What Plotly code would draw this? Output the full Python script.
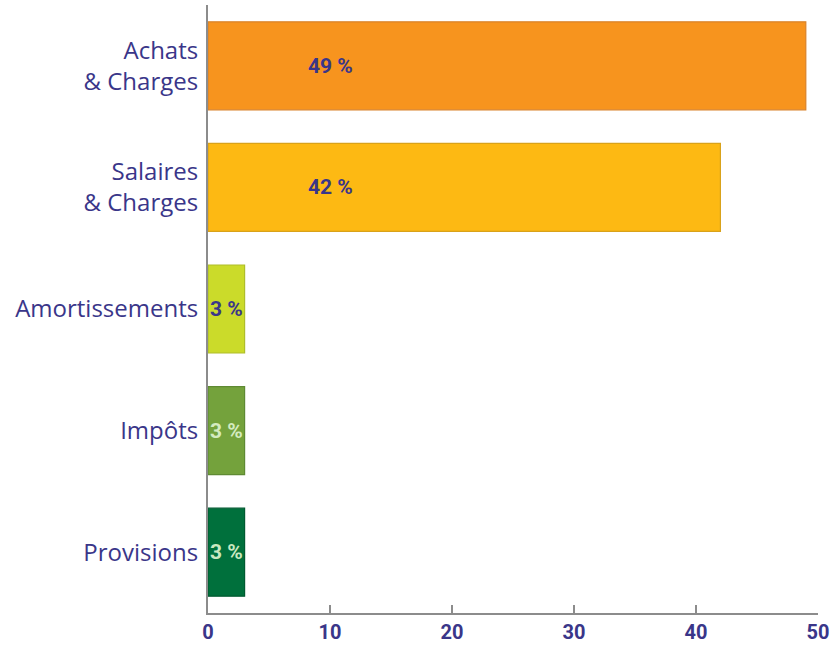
import plotly.graph_objects as go

categories = ["Achats<br>& Charges", "Salaires<br>& Charges", "Amortissements", "Impôts", "Provisions"]
values = [49, 42, 3, 3, 3]
value_labels = ["49 %", "42 %", "3 %", "3 %", "3 %"]
bar_colors = ["#F7941E", "#FDB913", "#CBDB2A", "#74A23C", "#00703C"]
line_colors = ["#D9822A", "#D9A21A", "#AFBE2A", "#5F8A33", "#005A30"]
label_colors = ["#3A3689", "#3A3689", "#3A3689", "#D4EBC0", "#C9E8C0"]
x_ticks = [0, 10, 20, 30, 40, 50]

fig = go.Figure()
fig.add_trace(go.Bar(
    y=categories, x=values, orientation="h",
    marker=dict(color=bar_colors, line=dict(color=line_colors, width=1.2)),
    hoverinfo="skip",
))

for cat, v, lab, col in zip(categories, values, value_labels, label_colors):
    fig.add_annotation(
        x=10 if v > 20 else v / 2, y=cat, text=lab, showarrow=False,
        xanchor="center", yanchor="middle",
        font=dict(family="Roboto", size=21, color=col, weight="bold"),
    )

fig.update_layout(
    width=832, height=647,
    margin=dict(l=208, r=14, t=5, b=34),
    paper_bgcolor="white", plot_bgcolor="white",
    bargap=0.276, showlegend=False,
)
fig.update_xaxes(
    range=[0, 50], tickvals=x_ticks, showgrid=False, zeroline=False,
    showline=True, linecolor="#8C8C8C", linewidth=2,
    ticks="inside", ticklen=8, tickwidth=1.5, tickcolor="#8C8C8C",
    tickfont=dict(family="Roboto", size=20, color="#3A3689", weight="bold"),
    automargin=False,
)
fig.update_yaxes(
    autorange="reversed", showgrid=False, zeroline=False,
    showline=True, linecolor="#8C8C8C", linewidth=2, ticks="",
    ticklabelstandoff=3,
    tickfont=dict(family="Open Sans", size=24, color="#3A3689"),
    automargin=False,
)

fig.write_html("out.html", config={"displayModeBar": False},
               post_script="document.body.style.margin='0px';")
